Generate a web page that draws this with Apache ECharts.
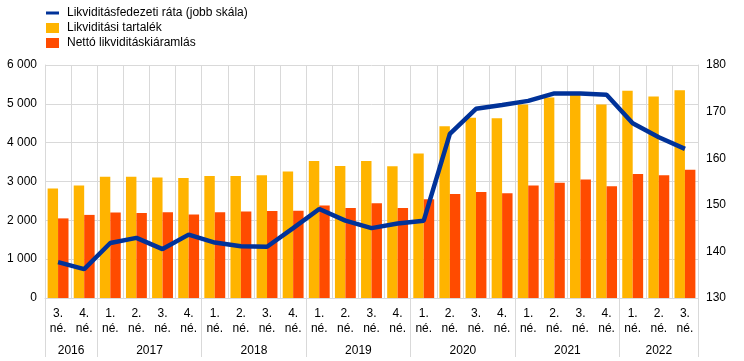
<!DOCTYPE html>
<html>
<head>
<meta charset="utf-8">
<script src="https://cdn.jsdelivr.net/npm/echarts@6/dist/echarts.min.js"></script>
<style>html,body{margin:0;padding:0;background:#fff}#c{width:744px;height:361px}</style>
</head>
<body>
<div id="c"></div>
<script>
var quarters = ['3.','4.','1.','2.','3.','4.','1.','2.','3.','4.','1.','2.','3.','4.','1.','2.','3.','4.','1.','2.','3.','4.','1.','2.','3.'];
var years = ['2016','2017','2018','2019','2020','2021','2022'];
var yearSpans = [2,4,4,4,4,4,3];
var reserve = [2820,2900,3120,3120,3100,3090,3140,3140,3160,3260,3530,3400,3530,3390,3720,4420,4640,4630,4980,5160,5230,4980,5340,5190,5350];
var outflow = [2050,2140,2200,2190,2210,2150,2210,2230,2240,2245,2380,2320,2440,2320,2540,2680,2730,2700,2900,2970,3050,2880,3190,3160,3300];
var lcr = [137.7,136.2,141.8,142.9,140.5,143.6,141.9,141.1,141.0,145.0,149.1,146.6,145.0,146.0,146.6,165.2,170.6,171.4,172.3,173.9,173.9,173.6,167.5,164.5,162.0];
var names = ['Likviditásfedezeti ráta (jobb skála)','Likviditási tartalék','Nettó likviditáskiáramlás'];

var cats = quarters.map(function(q,i){return i+'';});
var boundaries = [0], centers = {};
var acc = 0;
yearSpans.forEach(function(s,i){ centers[(acc + s/2).toFixed(1)] = years[i]; acc += s; boundaries.push(acc); });

var font = 'Arial, "Liberation Sans", sans-serif';
var gridColor = '#d9d9d9';
var chart = echarts.init(document.getElementById('c'));
chart.setOption({
  animation: false,
  textStyle: {fontFamily: font, color: '#000'},
  legend: {
    orient: 'vertical', left: 41, top: 2, itemGap: 3, itemWidth: 13, itemHeight: 10,
    textStyle: {fontSize: 12, color: '#000', fontFamily: font, padding: [0,0,0,3]},
    data: [
      {name: names[0], icon: 'path://M0,3.5L13,3.5L13,6.5L0,6.5Z M0,0L0,0 M0,10L0,10'},
      {name: names[1], icon: 'rect'},
      {name: names[2], icon: 'rect'}
    ]
  },
  grid: {left: 45, right: 46, top: 65, bottom: 63},
  xAxis: [
    {type: 'category', data: cats, position: 'bottom',
      axisLine: {show: true, lineStyle: {color: gridColor}},
      axisTick: {show: false},
      splitLine: {show: true, interval: 0, lineStyle: {color: gridColor}},
      axisLabel: {interval: 0, margin: 8, fontSize: 12, color: '#000', lineHeight: 15,
        formatter: function(v){ return quarters[+v] + '\nné.'; }}
    },
    {type: 'category', data: cats, position: 'bottom',
      axisLine: {show: false},
      axisTick: {show: true, length: 59, lineStyle: {color: gridColor},
        interval: function(i){ return boundaries.indexOf(i) >= 0; }},
      axisLabel: {show: false}, splitLine: {show: false}
    },
    {type: 'value', min: 0, max: 25, interval: 0.5, position: 'bottom',
      axisLine: {show: false}, axisTick: {show: false}, splitLine: {show: false},
      axisLabel: {margin: 47, fontSize: 12, color: '#000', showMinLabel: true, showMaxLabel: true,
        formatter: function(v){ return centers[v.toFixed(1)] || ''; }}
    }
  ],
  yAxis: [
    {type: 'value', min: 0, max: 6000, interval: 1000, position: 'left',
      axisLine: {show: true, lineStyle: {color: gridColor}}, axisTick: {show: false},
      splitLine: {show: true, lineStyle: {color: gridColor}},
      axisLabel: {fontSize: 12, color: '#000', margin: 8,
        formatter: function(v){ return String(v).replace(/\B(?=(\d{3})+(?!\d))/g, ' '); }}
    },
    {type: 'value', min: 130, max: 180, interval: 10, position: 'right',
      axisLine: {show: true, lineStyle: {color: gridColor}}, axisTick: {show: false},
      splitLine: {show: false},
      axisLabel: {fontSize: 12, color: '#000', margin: 8}
    }
  ],
  series: [
    {name: names[1], type: 'bar', xAxisIndex: 0, yAxisIndex: 0, data: reserve,
      itemStyle: {color: '#FFB400'}, barCategoryGap: '20%', barGap: '0%'},
    {name: names[2], type: 'bar', xAxisIndex: 0, yAxisIndex: 0, data: outflow,
      itemStyle: {color: '#FF4B00'}, barCategoryGap: '20%', barGap: '0%'},
    {name: names[0], type: 'line', xAxisIndex: 0, yAxisIndex: 1, data: lcr, z: 5,
      symbol: 'none', lineStyle: {color: '#003299', width: 4.5}, itemStyle: {color: '#003299'}}
  ]
});
</script>
</body>
</html>
